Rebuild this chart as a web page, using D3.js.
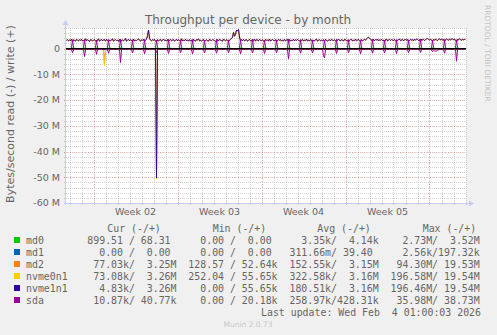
<!DOCTYPE html>
<html>
<head>
<meta charset="utf-8">
<script src="https://cdn.jsdelivr.net/npm/d3@7"></script>
<style>
  html, body { margin: 0; padding: 0; background: #f0f0f0; }
  svg { display: block; }
  text { font-family: "DejaVu Sans", sans-serif; fill: #666; }
  .mono { font-family: "DejaVu Sans Mono", monospace; font-size: 9.9px; white-space: pre; }
</style>
</head>
<body>
<svg id="chart" width="497" height="335"></svg>
<script>
// ---- data (MB/s) ----
// Fine series: 2-hour samples from 2026-01-01 18:00 UTC, laid out as
// 3 samples for Jan 1, one row of 12 per day (00:00 .. 22:00) up to Feb 3, then Feb 4 00:00.
const devices = ["md0", "md1", "md2", "nvme0n1", "nvme1n1", "sda"];
const colors  = ["#00CC00", "#0066B3", "#FF8000", "#FFCC00", "#330099", "#990099"];

// writes on the RAID1 mirror: md2 and both nvme members carry the same load
const raidWrite = [3.2,3.5,3.0,
  3.3,3.1,3.7,2.6,3.4,3.2,2.9,3.6,3.3,3.0,3.5,3.2,
  3.6,2.9,3.3,2.8,3.8,3.1,3.4,3.2,2.7,3.5,3.3,3.0,
  3.2,3.5,3.0,2.6,3.3,3.8,2.9,3.2,3.6,3.0,3.4,3.5,
  2.9,3.6,3.2,2.7,3.4,3.0,3.3,3.8,2.9,3.2,3.5,3.1,
  3.3,2.8,3.6,2.5,3.2,3.4,3.0,3.3,3.9,2.9,3.2,3.6,
  3.0,3.5,3.2,2.8,3.7,2.9,3.3,3.1,3.5,3.8,3.2,2.9,
  3.4,3.2,3.6,2.7,3.3,3.7,5.0,7.2,4.0,3.3,3.0,3.5,
  3.2,3.6,2.9,2.6,3.5,3.0,3.3,3.6,2.9,3.2,3.7,3.1,
  3.3,2.9,3.5,2.7,3.2,3.6,3.0,3.3,3.5,2.9,3.2,3.6,
  3.0,3.5,3.2,2.8,3.8,2.9,3.3,3.1,3.6,3.0,3.4,2.9,
  3.5,3.0,3.3,2.6,3.6,3.1,2.9,3.5,3.3,3.8,3.0,3.2,
  2.9,3.3,3.6,2.7,3.1,3.5,3.0,2.9,3.6,3.3,3.1,3.5,
  3.3,3.1,2.9,2.5,3.5,3.0,3.6,3.3,3.1,2.9,3.7,3.3,
  3.0,3.5,3.2,2.8,3.3,3.6,3.9,4.4,6.3,4.8,5.5,7.2,
  6.8,7.4,4.5,2.9,3.5,3.1,3.6,3.0,3.3,3.5,2.9,3.2,
  3.6,3.0,3.3,2.6,3.2,3.7,2.9,3.5,3.3,3.0,3.6,3.2,
  3.1,3.5,2.9,2.7,3.6,3.2,3.3,3.0,3.7,2.9,3.3,3.5,
  3.3,2.9,3.5,2.8,3.0,3.6,3.2,3.5,2.9,3.3,3.0,3.6,
  3.0,3.3,3.6,2.5,3.5,2.9,3.3,3.1,3.6,3.0,3.5,3.2,
  3.5,3.2,3.0,2.7,3.3,3.6,2.9,3.3,3.1,3.7,3.0,3.3,
  2.9,3.6,3.3,2.6,3.2,3.0,3.5,3.7,2.9,3.2,3.5,3.0,
  3.3,3.0,3.5,2.8,3.6,3.2,2.9,3.3,3.5,3.0,3.6,3.3,
  3.1,3.5,2.9,2.7,3.3,3.7,3.2,3.0,3.5,3.3,2.9,3.6,
  3.5,3.0,3.3,2.6,3.2,3.5,3.6,2.9,3.3,3.1,3.7,3.0,
  3.3,3.6,3.1,2.8,3.5,3.0,3.3,3.6,3.2,3.8,4.2,4.4,
  4.0,3.6,3.4,2.7,3.6,3.1,3.5,3.3,3.7,3.0,3.4,3.2,
  3.6,3.1,3.3,2.6,3.5,3.7,3.0,3.3,3.6,3.1,3.5,3.3,
  3.1,3.6,3.0,2.8,3.3,3.5,3.7,3.1,3.3,3.6,3.0,3.5,
  3.5,3.3,3.6,2.7,3.1,3.6,3.3,3.5,3.0,3.7,3.3,3.6,
  3.6,3.1,3.5,2.6,3.7,3.3,3.6,3.1,3.4,3.8,3.9,3.5,
  3.3,3.7,3.4,2.8,3.6,3.2,3.7,3.4,3.1,3.6,3.8,3.4,
  3.7,3.3,3.6,2.7,3.4,3.8,3.5,3.2,3.7,3.4,3.6,3.8,
  3.4,3.7,3.2,2.6,3.6,3.4,3.8,3.5,3.2,3.7,3.4,3.6,
  3.6];

const sdaWrite = [0.03,0.02,0.03,
  0.03,0.02,0.4,3.4,0.5,0.03,0.02,0.03,0.02,0.03,0.02,0.03,
  0.03,0.02,0.4,3.6,0.5,0.03,0.02,0.03,0.02,0.03,0.02,0.03,
  0.03,0.02,0.4,3.3,0.5,0.03,0.02,0.03,0.02,0.03,0.02,0.03,
  0.03,0.02,0.4,3.5,0.5,0.03,0.02,0.03,0.02,0.03,0.02,0.03,
  0.03,0.02,0.4,3.7,0.5,0.03,0.02,0.03,0.02,0.03,0.02,0.03,
  0.03,0.02,0.4,3.4,0.5,0.03,0.02,0.03,0.02,0.03,0.02,0.03,
  0.03,0.02,0.4,3.5,0.5,0.03,0.02,0.03,0.02,0.03,0.02,0.03,
  0.03,0.02,0.4,3.3,0.5,0.03,0.02,0.03,0.02,0.03,0.02,0.03,
  0.03,0.02,0.4,3.6,0.5,0.03,0.02,0.03,0.02,0.03,0.02,0.03,
  0.03,0.02,0.4,3.4,0.5,0.03,0.02,0.03,0.02,0.03,0.02,0.03,
  0.03,0.02,0.4,3.5,0.5,0.03,0.02,0.03,0.02,0.03,0.02,0.03,
  0.03,0.02,0.4,3.3,0.5,0.03,0.02,0.03,0.02,0.03,0.02,0.03,
  0.03,0.02,0.4,3.6,0.5,0.03,0.02,0.03,0.02,0.03,0.02,0.03,
  0.03,0.02,0.4,3.4,0.5,0.03,0.02,0.03,0.02,0.03,0.02,0.03,
  0.03,0.02,0.4,3.5,0.5,0.03,0.02,0.03,0.02,0.03,0.02,0.03,
  0.03,0.02,0.4,3.7,0.5,0.03,0.02,0.03,0.02,0.03,0.02,0.03,
  0.03,0.02,0.4,3.3,0.5,0.03,0.02,0.03,0.02,0.03,0.02,0.03,
  0.03,0.02,0.4,3.4,0.5,0.03,0.02,0.03,0.02,0.03,0.02,0.03,
  0.03,0.02,0.4,3.6,0.5,0.03,0.02,0.03,0.02,0.03,0.02,0.03,
  0.03,0.02,0.4,3.5,0.5,0.03,0.02,0.03,0.02,0.03,0.02,0.03,
  0.03,0.02,0.4,3.4,0.5,0.03,0.02,0.03,0.02,0.03,0.02,0.03,
  0.03,0.02,0.4,3.3,0.5,0.03,0.02,0.03,0.02,0.03,0.02,0.03,
  0.03,0.02,0.4,3.6,0.5,0.03,0.02,0.03,0.02,0.03,0.02,0.03,
  0.03,0.02,0.4,3.5,0.5,0.03,0.02,0.03,0.02,0.03,0.02,0.03,
  0.03,0.02,0.4,3.4,0.5,0.03,0.02,0.03,0.02,0.03,0.02,0.03,
  0.03,0.02,0.4,3.6,0.5,0.03,0.02,0.03,0.02,0.03,0.02,0.03,
  0.03,0.02,0.4,3.3,0.5,0.03,0.02,0.03,0.02,0.03,0.02,0.03,
  0.03,0.02,0.4,3.5,0.5,0.03,0.02,0.03,0.02,0.03,0.02,0.03,
  0.03,0.02,0.4,3.4,0.5,0.03,0.02,0.03,0.02,0.03,0.02,0.03,
  0.03,0.02,0.4,3.6,0.5,0.03,0.02,0.03,0.02,0.03,0.02,0.03,
  0.03,0.02,0.4,3.2,0.5,0.03,0.02,0.03,0.02,0.03,0.02,0.03,
  0.03,0.02,0.4,3.5,0.5,0.03,0.02,0.03,0.02,0.03,0.02,0.03,
  0.03,0.02,0.4,3.4,0.5,0.03,0.02,0.03,0.02,0.03,0.02,0.03,
  0.02];

const sdaRead = [-0.15,-0.12,-0.15,
  -0.15,-0.12,-0.4,-1.6,-0.5,-0.2,-0.15,-0.12,-0.15,-0.2,-0.12,-0.15,
  -0.15,-0.12,-0.4,-3.1,-0.5,-0.2,-0.15,-0.12,-0.15,-0.2,-0.12,-0.15,
  -0.15,-0.12,-0.4,-2.2,-0.5,-0.2,-0.15,-0.12,-0.15,-0.2,-0.12,-0.15,
  -0.15,-0.12,-0.4,-1.8,-0.5,-0.2,-0.15,-0.12,-0.15,-0.2,-0.12,-0.15,
  -0.15,-0.12,-0.4,-5.4,-0.5,-0.2,-0.15,-0.12,-0.15,-0.2,-0.12,-0.15,
  -0.15,-0.12,-0.4,-1.7,-0.5,-0.2,-0.15,-0.12,-0.15,-0.2,-0.12,-0.15,
  -0.15,-0.12,-0.4,-2.0,-0.5,-0.2,-0.15,-0.12,-0.15,-0.2,-0.12,-0.15,
  -0.15,-0.12,-0.4,-1.5,-0.5,-0.2,-0.15,-0.12,-0.15,-0.2,-0.12,-0.15,
  -0.15,-0.12,-0.4,-1.9,-0.5,-0.2,-0.15,-0.12,-0.15,-0.2,-0.12,-0.15,
  -0.15,-0.12,-0.4,-1.6,-0.5,-0.2,-0.15,-0.12,-0.15,-0.2,-0.12,-0.15,
  -0.15,-0.12,-0.4,-2.1,-0.5,-0.2,-0.15,-0.12,-0.15,-0.2,-0.12,-0.15,
  -0.15,-0.12,-0.4,-1.7,-0.5,-0.2,-0.15,-0.12,-0.15,-0.2,-0.12,-0.15,
  -0.15,-0.12,-0.4,-1.8,-0.5,-0.2,-0.15,-0.12,-0.15,-0.2,-0.12,-0.15,
  -0.15,-0.12,-0.4,-1.6,-0.5,-0.2,-0.15,-0.12,-0.15,-0.2,-0.12,-0.15,
  -0.15,-0.12,-0.4,-2.0,-0.5,-0.2,-0.15,-0.12,-0.15,-0.2,-0.12,-0.15,
  -0.15,-0.12,-0.4,-1.7,-0.5,-0.2,-0.15,-0.12,-0.15,-0.2,-0.12,-0.15,
  -0.15,-0.12,-0.4,-1.9,-0.5,-0.2,-0.15,-0.12,-0.15,-0.2,-0.12,-0.15,
  -0.15,-0.12,-0.4,-1.6,-0.5,-0.2,-0.15,-0.12,-0.15,-0.2,-0.12,-0.15,
  -0.15,-0.12,-0.4,-4.0,-0.5,-0.2,-0.15,-0.12,-0.15,-0.2,-0.12,-0.15,
  -0.15,-0.12,-0.4,-1.8,-0.5,-0.2,-0.15,-0.12,-0.15,-0.2,-0.12,-0.15,
  -0.15,-0.12,-0.4,-1.7,-0.5,-0.2,-0.15,-0.12,-0.15,-0.2,-0.12,-0.15,
  -0.15,-0.12,-2.8,-3.6,-0.5,-0.2,-0.15,-0.12,-0.15,-0.2,-0.12,-0.15,
  -0.15,-0.12,-0.4,-1.9,-0.5,-0.2,-0.15,-0.12,-0.15,-0.2,-0.12,-0.15,
  -0.15,-0.12,-0.4,-1.6,-0.5,-0.2,-0.15,-0.12,-0.15,-0.2,-0.12,-0.15,
  -0.15,-0.12,-0.4,-2.0,-0.5,-0.2,-0.15,-0.12,-0.15,-0.2,-0.12,-0.15,
  -0.15,-0.12,-0.4,-1.8,-0.5,-0.2,-0.15,-0.12,-0.15,-0.2,-0.12,-0.15,
  -0.15,-0.12,-0.4,-1.7,-0.5,-0.2,-0.15,-0.12,-0.15,-0.2,-0.12,-0.15,
  -0.15,-0.12,-0.4,-1.9,-0.5,-0.2,-0.15,-0.12,-0.15,-0.2,-0.12,-0.15,
  -0.15,-0.12,-0.4,-1.6,-0.5,-0.2,-0.15,-0.12,-0.15,-0.2,-0.12,-0.15,
  -0.15,-0.12,-0.4,-1.5,-0.5,-0.2,-0.15,-0.12,-0.15,-0.2,-0.12,-0.15,
  -0.2,-0.3,-0.5,-1.2,-0.8,-0.9,-1.0,-0.9,-0.7,-0.5,-0.3,-0.2,
  -0.15,-0.12,-0.4,-1.8,-0.5,-0.2,-0.15,-0.12,-0.15,-0.2,-0.12,-0.15,
  -0.15,-0.12,-0.4,-4.9,-0.5,-0.2,-0.15,-0.12,-0.15,-0.2,-0.12,-0.15,
  -0.12];

const md2Read = [-0.15,-0.1,-0.2,
  -0.15,-0.1,-0.2,-0.25,-0.15,-0.1,-0.2,-0.15,-0.1,-0.2,-0.15,-0.1,
  -0.15,-0.1,-0.2,-0.25,-0.15,-0.1,-0.2,-0.15,-0.1,-0.2,-0.15,-0.1,
  -0.15,-0.1,-0.2,-0.25,-0.15,-0.1,-0.2,-0.15,-0.1,-0.2,-0.15,-6.0,
  -0.15,-0.1,-0.2,-0.25,-0.15,-0.1,-0.2,-0.15,-0.1,-0.2,-0.15,-0.1,
  -0.15,-0.1,-0.2,-0.25,-0.15,-0.1,-0.2,-0.15,-0.1,-0.2,-0.15,-0.1,
  -0.15,-0.1,-0.2,-0.25,-0.15,-0.1,-0.2,-0.15,-0.1,-0.2,-0.15,-0.1,
  -0.15,-0.1,-0.2,-0.25,-0.15,-0.1,-0.2,-0.15,-0.1,-0.2,-0.15,-0.1,
  -0.15,-0.1,-0.2,-49.0,-0.15,-0.1,-0.2,-0.15,-0.1,-0.2,-0.15,-0.1,
  -0.15,-0.1,-0.2,-0.25,-0.15,-0.1,-0.2,-0.15,-0.1,-0.2,-0.15,-0.1,
  -0.15,-0.1,-0.2,-0.25,-0.15,-0.1,-0.2,-0.15,-0.1,-0.2,-0.15,-0.1,
  -0.15,-0.1,-0.2,-0.25,-0.15,-0.1,-0.2,-0.15,-0.1,-0.2,-0.15,-0.1,
  -0.15,-0.1,-0.2,-0.25,-0.15,-0.1,-0.2,-0.15,-0.1,-0.2,-0.15,-0.1,
  -0.15,-0.1,-0.2,-0.25,-0.15,-0.1,-0.2,-0.15,-0.1,-0.2,-0.15,-0.1,
  -0.15,-0.1,-0.2,-0.25,-0.15,-0.1,-0.2,-0.15,-0.1,-0.2,-0.15,-0.1,
  -0.15,-0.1,-0.2,-0.25,-0.15,-0.1,-0.2,-0.15,-0.1,-0.2,-0.15,-0.1,
  -0.15,-0.1,-0.2,-0.25,-0.15,-0.1,-0.2,-0.15,-0.1,-0.2,-0.15,-0.1,
  -0.15,-0.1,-0.2,-0.25,-0.15,-0.1,-0.2,-0.15,-0.1,-0.2,-0.15,-0.1,
  -0.15,-0.1,-0.2,-0.25,-0.15,-0.1,-0.2,-0.15,-0.1,-0.2,-0.15,-0.1,
  -0.15,-0.1,-0.2,-0.25,-0.15,-0.1,-0.2,-0.15,-0.1,-0.2,-0.15,-0.1,
  -0.15,-0.1,-0.2,-0.25,-0.15,-0.1,-0.2,-0.15,-0.1,-0.2,-0.15,-0.1,
  -0.15,-0.1,-0.2,-0.25,-0.15,-0.1,-0.2,-0.15,-0.1,-0.2,-0.15,-0.1,
  -0.15,-0.1,-0.2,-0.25,-0.15,-0.1,-0.2,-0.15,-0.1,-0.2,-0.15,-0.1,
  -0.15,-0.1,-0.2,-0.25,-0.15,-0.1,-0.2,-0.15,-0.1,-0.2,-0.15,-0.1,
  -0.15,-0.1,-0.2,-0.25,-0.15,-0.1,-0.2,-0.15,-0.1,-0.2,-0.15,-0.1,
  -0.15,-0.1,-0.2,-0.25,-0.15,-0.1,-0.2,-0.15,-0.1,-0.2,-0.15,-0.1,
  -0.15,-0.1,-0.2,-0.25,-0.15,-0.1,-0.2,-0.15,-0.1,-0.2,-0.15,-0.1,
  -0.15,-0.1,-0.2,-0.25,-0.15,-0.1,-0.2,-0.15,-0.1,-0.2,-0.15,-0.1,
  -0.15,-0.1,-0.2,-0.25,-0.15,-0.1,-0.2,-0.15,-0.1,-0.2,-0.15,-0.1,
  -0.15,-0.1,-0.2,-0.25,-0.15,-0.1,-0.2,-0.15,-0.1,-0.2,-0.15,-0.1,
  -0.15,-0.1,-0.2,-0.25,-0.15,-0.1,-0.2,-0.15,-0.1,-0.2,-0.15,-0.1,
  -0.15,-0.1,-0.2,-0.25,-0.15,-0.1,-0.2,-0.15,-0.1,-0.2,-0.15,-0.1,
  -0.15,-0.1,-0.2,-0.25,-0.15,-0.1,-0.2,-0.15,-0.1,-0.2,-0.15,-0.1,
  -0.15];

const nvme0n1Read = [-0.3,-0.25,-0.35,
  -0.3,-0.25,-0.35,-0.45,-0.3,-0.25,-0.35,-0.3,-0.25,-0.35,-0.3,-0.25,
  -0.3,-0.25,-0.35,-0.45,-0.3,-0.25,-0.35,-0.3,-0.25,-0.35,-0.3,-0.25,
  -0.3,-0.25,-0.35,-0.45,-0.3,-0.25,-0.35,-0.3,-0.25,-0.35,-1.0,-6.6,
  -0.3,-0.25,-0.35,-0.45,-0.3,-0.25,-0.35,-0.3,-0.25,-0.35,-0.3,-0.25,
  -0.3,-0.25,-0.35,-0.45,-0.3,-0.25,-0.35,-0.3,-0.25,-0.35,-0.3,-0.25,
  -0.3,-0.25,-0.35,-0.45,-0.3,-0.25,-0.35,-0.3,-0.25,-0.35,-0.3,-0.25,
  -0.3,-0.25,-0.35,-0.45,-0.3,-0.25,-0.35,-0.3,-0.25,-0.35,-0.3,-0.25,
  -0.3,-0.25,-0.35,-50.5,-0.3,-0.25,-0.35,-0.3,-0.25,-0.35,-0.3,-0.25,
  -0.3,-0.25,-0.35,-0.45,-0.3,-0.25,-0.35,-0.3,-0.25,-0.35,-0.3,-0.25,
  -0.3,-0.25,-0.35,-0.45,-0.3,-0.25,-0.35,-0.3,-0.25,-0.35,-0.3,-0.25,
  -0.3,-0.25,-0.35,-0.45,-0.3,-0.25,-0.35,-0.3,-0.25,-0.35,-0.3,-0.25,
  -0.3,-0.25,-0.35,-0.45,-0.3,-0.25,-0.35,-0.3,-0.25,-0.35,-0.3,-0.25,
  -0.3,-0.25,-0.35,-0.45,-0.3,-0.25,-0.35,-0.3,-0.25,-0.35,-0.3,-0.25,
  -0.3,-0.25,-0.35,-0.45,-0.3,-0.25,-0.35,-0.3,-0.25,-0.35,-0.3,-0.25,
  -0.3,-0.25,-0.35,-0.45,-0.3,-0.25,-0.35,-0.3,-0.25,-0.35,-0.3,-0.25,
  -0.3,-0.25,-0.35,-0.45,-0.3,-0.25,-0.35,-0.3,-0.25,-0.35,-0.3,-0.25,
  -0.3,-0.25,-0.35,-0.45,-0.3,-0.25,-0.35,-0.3,-0.25,-0.35,-0.3,-0.25,
  -0.3,-0.25,-0.35,-0.45,-0.3,-0.25,-0.35,-0.3,-0.25,-0.35,-0.3,-0.25,
  -0.3,-0.25,-0.35,-0.45,-0.3,-0.25,-0.35,-0.3,-0.25,-0.35,-0.3,-0.25,
  -0.3,-0.25,-0.35,-0.45,-0.3,-0.25,-0.35,-0.3,-0.25,-0.35,-0.3,-0.25,
  -0.3,-0.25,-0.35,-0.45,-0.3,-0.25,-0.35,-0.3,-0.25,-0.35,-0.3,-0.25,
  -0.3,-0.25,-0.35,-0.45,-0.3,-0.25,-0.35,-0.3,-0.25,-0.35,-0.3,-0.25,
  -0.3,-0.25,-0.35,-0.45,-0.3,-0.25,-0.35,-0.3,-0.25,-0.35,-0.3,-0.25,
  -0.3,-0.25,-0.35,-0.45,-0.3,-0.25,-0.35,-0.3,-0.25,-0.35,-0.3,-0.25,
  -0.3,-0.25,-0.35,-0.45,-0.3,-0.25,-0.35,-0.3,-0.25,-0.35,-0.3,-0.25,
  -0.3,-0.25,-0.35,-0.45,-0.3,-0.25,-0.35,-0.3,-0.25,-0.35,-0.3,-0.25,
  -0.3,-0.25,-0.35,-0.45,-0.3,-0.25,-0.35,-0.3,-0.25,-0.35,-0.3,-0.25,
  -0.3,-0.25,-0.35,-0.45,-0.3,-0.25,-0.35,-0.3,-0.25,-0.35,-0.3,-0.25,
  -0.3,-0.25,-0.35,-0.45,-0.3,-0.25,-0.35,-0.3,-0.25,-0.35,-0.3,-0.25,
  -0.3,-0.25,-0.35,-0.45,-0.3,-0.25,-0.35,-0.3,-0.25,-0.35,-0.3,-0.25,
  -0.3,-0.25,-0.35,-0.45,-0.3,-0.25,-0.35,-0.3,-0.25,-0.35,-0.3,-0.25,
  -0.3,-0.25,-0.35,-0.45,-0.3,-0.25,-0.35,-0.3,-0.25,-0.35,-0.3,-0.25,
  -0.3,-0.25,-0.35,-0.45,-0.3,-0.25,-0.35,-0.3,-0.25,-0.35,-0.3,-0.25,
  -0.3];

const nvme1n1Read = [-0.2,-0.15,-0.25,
  -0.2,-0.15,-0.25,-0.3,-0.2,-0.15,-0.25,-0.2,-0.15,-0.25,-0.2,-0.15,
  -0.2,-0.15,-0.25,-0.3,-0.2,-0.15,-0.25,-0.2,-0.15,-0.25,-0.2,-0.15,
  -0.2,-0.15,-0.25,-0.3,-0.2,-0.15,-0.25,-0.2,-0.15,-0.25,-0.2,-0.3,
  -0.2,-0.15,-0.25,-0.3,-0.2,-0.15,-0.25,-0.2,-0.15,-0.25,-0.2,-0.15,
  -0.2,-0.15,-0.25,-0.3,-0.2,-0.15,-0.25,-0.2,-0.15,-0.25,-0.2,-0.15,
  -0.2,-0.15,-0.25,-0.3,-0.2,-0.15,-0.25,-0.2,-0.15,-0.25,-0.2,-0.15,
  -0.2,-0.15,-0.25,-0.3,-0.2,-0.15,-0.25,-0.2,-0.15,-0.25,-0.2,-0.15,
  -0.2,-0.15,-0.25,-50.3,-0.2,-0.15,-0.25,-0.2,-0.15,-0.25,-0.2,-0.15,
  -0.2,-0.15,-0.25,-0.3,-0.2,-0.15,-0.25,-0.2,-0.15,-0.25,-0.2,-0.15,
  -0.2,-0.15,-0.25,-0.3,-0.2,-0.15,-0.25,-0.2,-0.15,-0.25,-0.2,-0.15,
  -0.2,-0.15,-0.25,-0.3,-0.2,-0.15,-0.25,-0.2,-0.15,-0.25,-0.2,-0.15,
  -0.2,-0.15,-0.25,-0.3,-0.2,-0.15,-0.25,-0.2,-0.15,-0.25,-0.2,-0.15,
  -0.2,-0.15,-0.25,-0.3,-0.2,-0.15,-0.25,-0.2,-0.15,-0.25,-0.2,-0.15,
  -0.2,-0.15,-0.25,-0.3,-0.2,-0.15,-0.25,-0.2,-0.15,-0.25,-0.2,-0.15,
  -0.2,-0.15,-0.25,-0.3,-0.2,-0.15,-0.25,-0.2,-0.15,-0.25,-0.2,-0.15,
  -0.2,-0.15,-0.25,-0.3,-0.2,-0.15,-0.25,-0.2,-0.15,-0.25,-0.2,-0.15,
  -0.2,-0.15,-0.25,-0.3,-0.2,-0.15,-0.25,-0.2,-0.15,-0.25,-0.2,-0.15,
  -0.2,-0.15,-0.25,-0.3,-0.2,-0.15,-0.25,-0.2,-0.15,-0.25,-0.2,-0.15,
  -0.2,-0.15,-0.25,-0.3,-0.2,-0.15,-0.25,-0.2,-0.15,-0.25,-0.2,-0.15,
  -0.2,-0.15,-0.25,-0.3,-0.2,-0.15,-0.25,-0.2,-0.15,-0.25,-0.2,-0.15,
  -0.2,-0.15,-0.25,-0.3,-0.2,-0.15,-0.25,-0.2,-0.15,-0.25,-0.2,-0.15,
  -0.2,-0.15,-0.25,-0.3,-0.2,-0.15,-0.25,-0.2,-0.15,-0.25,-0.2,-0.15,
  -0.2,-0.15,-0.25,-0.3,-0.2,-0.15,-0.25,-0.2,-0.15,-0.25,-0.2,-0.15,
  -0.2,-0.15,-0.25,-0.3,-0.2,-0.15,-0.25,-0.2,-0.15,-0.25,-0.2,-0.15,
  -0.2,-0.15,-0.25,-0.3,-0.2,-0.15,-0.25,-0.2,-0.15,-0.25,-0.2,-0.15,
  -0.2,-0.15,-0.25,-0.3,-0.2,-0.15,-0.25,-0.2,-0.15,-0.25,-0.2,-0.15,
  -0.2,-0.15,-0.25,-0.3,-0.2,-0.15,-0.25,-0.2,-0.15,-0.25,-0.2,-0.15,
  -0.2,-0.15,-0.25,-0.3,-0.2,-0.15,-0.25,-0.2,-0.15,-0.25,-0.2,-0.15,
  -0.2,-0.15,-0.25,-0.3,-0.2,-0.15,-0.25,-0.2,-0.15,-0.25,-0.2,-0.15,
  -0.2,-0.15,-0.25,-0.3,-0.2,-0.15,-0.25,-0.2,-0.15,-0.25,-0.2,-0.15,
  -0.2,-0.15,-0.25,-0.3,-0.2,-0.15,-0.25,-0.2,-0.15,-0.25,-0.2,-0.15,
  -0.2,-0.15,-0.25,-0.3,-0.2,-0.15,-0.25,-0.2,-0.15,-0.25,-0.2,-0.15,
  -0.2,-0.15,-0.25,-0.3,-0.2,-0.15,-0.25,-0.2,-0.15,-0.25,-0.2,-0.15,
  -0.2];

// Coarse series: 6-hour samples from 2026-01-01 18:00 UTC (md0 and md1 stay near zero)
const md0Write = [0,
  0,0.3,0,0, 0,0.2,0,0, 0,0.3,0,0, 0,0.2,0,0, 0,0.3,0,0, 0,0.2,0,0,
  0,0.3,0,0, 0,0.2,0,0, 0,0.3,0,0, 0,0.2,0,0, 0,0.3,0,0, 0,0.2,0,0,
  0,0.3,0,0, 0,0.2,0,0, 0,0.3,0,0, 0,0.2,0,0, 0,0.3,0,0, 0,0.2,0,0,
  0,0.3,0,0, 0,0.2,0,0, 0,0.3,0,0, 0,0.2,0,0, 0,0.3,0,0, 0,0.2,0,0,
  0,0.3,0,0, 0,0.2,0,0, 0,0.3,0,0, 0,0.2,0,0, 0,0.3,0,0, 0,0.2,0,0,
  0,0.3,0,0, 0,0.2,0,0, 0,0.3,0,0,
  0];
const md0Read = [0,
  0,-0.05,0,0, 0,-0.05,0,0, 0,-0.05,0,0, 0,-0.05,0,0, 0,-0.05,0,0, 0,-0.05,0,0,
  0,-0.05,0,0, 0,-0.05,0,0, 0,-0.05,0,0, 0,-0.05,0,0, 0,-0.05,0,0, 0,-0.05,0,0,
  0,-0.05,0,0, 0,-0.05,0,0, 0,-0.05,0,0, 0,-0.05,0,0, 0,-0.05,0,0, 0,-0.05,0,0,
  0,-0.05,0,0, 0,-0.05,0,0, 0,-0.05,0,0, 0,-0.05,0,0, 0,-0.05,0,0, 0,-0.05,0,0,
  0,-0.05,0,0, 0,-0.05,0,0, 0,-0.05,0,0, 0,-0.05,0,0, 0,-0.05,0,0, 0,-0.05,0,0,
  0,-0.05,0,0, 0,-0.05,0,0, 0,-0.05,0,0,
  0];
const md1Write = [0,
  0,0,0,0, 0,0,0,0, 0,0,0,0, 0,0,0,0, 0,0,0,0, 0,0,0,0, 0,0,0,0, 0,0,0,0,
  0,0,0,0, 0,0,0,0, 0,0,0,0, 0,0,0,0, 0,0,0,0, 0,0,0,0, 0,0,0,0, 0,0,0,0,
  0,0,0,0, 0,0,0,0, 0,0,0,0, 0,0,0,0, 0,0,0,0, 0,0,0,0, 0,0,0,0, 0,0,0,0,
  0,0,0,0, 0,0,0,0, 0,0,0,0, 0,0,0,0, 0,0,0,0, 0,0,0,0, 0,0,0,0, 0,0,0,0,
  0,0,0,0,
  0];
const md1Read = [0,
  0,0,0,0, 0,0,0,0, 0,0,0,0, 0,0,0,0, 0,0,0,0, 0,0,0,0, 0,0,0,0, 0,0,0,0,
  0,0,0,0, 0,0,0,0, 0,0,0,0, 0,0,0,0, 0,0,0,0, 0,0,0,0, 0,0,0,0, 0,0,0,0,
  0,0,0,0, 0,0,0,0, 0,0,0,0, 0,0,0,0, 0,0,0,0, 0,0,0,0, 0,0,0,0, 0,0,0,0,
  0,0,0,0, 0,0,0,0, 0,0,0,0, 0,0,0,0, 0,0,0,0, 0,0,0,0, 0,0,0,0, 0,0,0,0,
  0,0,0,0,
  0];

const fineStepMs = 2 * 3600 * 1000;
const coarseStepMs = 6 * 3600 * 1000;
const readSeries  = [[md0Read, coarseStepMs], [md1Read, coarseStepMs], [md2Read, fineStepMs],
                     [nvme0n1Read, fineStepMs], [nvme1n1Read, fineStepMs], [sdaRead, fineStepMs]];
const writeSeries = [[md0Write, coarseStepMs], [md1Write, coarseStepMs], [raidWrite, fineStepMs],
                     [raidWrite, fineStepMs], [raidWrite, fineStepMs], [sdaWrite, fineStepMs]];

// legend table: each cell is "read/write" as printed by rrdtool's GPRINT
const legendCur = ["899.51 / 68.31 ", "  0.00 /  0.00 ", " 77.03k/  3.25M", " 73.08k/  3.26M", "  4.83k/  3.26M", " 10.87k/ 40.77k"];
const legendMin = ["  0.00 /  0.00 ", "  0.00 /  0.00 ", "128.57 / 52.64k", "252.04 / 55.65k", "  0.00 / 55.65k", "  0.00 / 20.18k"];
const legendAvg = ["  3.35k/  4.14k", "311.66m/ 39.40 ", "152.55k/  3.15M", "322.58k/  3.16M", "180.51k/  3.16M", "258.97k/428.31k"];
const legendMax = ["  2.73M/  3.52M", "  2.56k/197.32k", " 94.30M/ 19.53M", "196.58M/ 19.54M", "196.46M/ 19.54M", " 35.98M/ 38.73M"];
const legendHeaders = ["Cur (-/+)", "Min (-/+)", "Avg (-/+)", "Max (-/+)"];

const yTickValues = [0, -10, -20, -30, -40, -50, -60];
const yTickLabels = ["0", "-10 M", "-20 M", "-30 M", "-40 M", "-50 M", "-60 M"];
const weekLabels  = ["Week 02", "Week 03", "Week 04", "Week 05"];

const sampleStart = Date.UTC(2026, 0, 1, 18);
const rangeStart = new Date(Date.UTC(2026, 0, 1, 17));
const rangeEnd   = new Date(Date.UTC(2026, 1, 4, 1));
const yMin = -60, yMax = 8;

// ---- layout ----
const svg = d3.select("#chart");
const plot = { left: 66, right: 466, top: 28, bottom: 203 };

const x = d3.scaleUtc().domain([rangeStart, rangeEnd]).range([plot.left, plot.right]);
const y = d3.scaleLinear().domain([yMin, yMax]).range([plot.bottom, plot.top]);

svg.append("rect").attr("width", 497).attr("height", 335).attr("fill", "#f0f0f0");
svg.append("rect")
  .attr("x", plot.left).attr("y", plot.top)
  .attr("width", plot.right - plot.left).attr("height", plot.bottom - plot.top)
  .attr("fill", "#ffffff");

// title
svg.append("text")
  .attr("x", 248).attr("y", 24)
  .attr("text-anchor", "middle")
  .style("font-size", "12px")
  .text("Throughput per device - by month");

// vertical axis label
svg.append("text")
  .attr("transform", "translate(14,114) rotate(-90)")
  .attr("text-anchor", "middle")
  .style("font-size", "11px")
  .text("Bytes/second read (-) / write (+)");

// watermark
svg.append("text")
  .attr("transform", "translate(485,5) rotate(90)")
  .style("font-size", "7.5px")
  .style("fill", "#c4c4c4")
  .text("RRDTOOL / TOBI OETIKER");

// ---- grid ----
const grid = svg.append("g");
const minorColor = "rgba(128,128,128,0.35)";
const majorColor = "rgba(255,0,0,0.25)";
const crisp = v => Math.round(v) + 0.5;

grid.selectAll(".hminor").data(d3.range(yMin, yMax + 1, 2)).join("line")
  .attr("x1", plot.left - 2).attr("x2", plot.right)
  .attr("y1", d => crisp(y(d))).attr("y2", d => crisp(y(d)))
  .attr("stroke", minorColor).attr("stroke-dasharray", "1,1");
grid.selectAll(".vminor").data(d3.utcDay.range(rangeStart, rangeEnd)).join("line")
  .attr("x1", d => crisp(x(d))).attr("x2", d => crisp(x(d)))
  .attr("y1", plot.top).attr("y2", plot.bottom + 2)
  .attr("stroke", minorColor).attr("stroke-dasharray", "1,1");
grid.selectAll(".hmajor").data(yTickValues).join("line")
  .attr("x1", plot.left - 2).attr("x2", plot.right)
  .attr("y1", d => crisp(y(d))).attr("y2", d => crisp(y(d)))
  .attr("stroke", majorColor).attr("stroke-dasharray", "1,2");
const sundays = d3.utcSunday.range(rangeStart, rangeEnd);
grid.selectAll(".vmajor").data(sundays).join("line")
  .attr("x1", d => crisp(x(d))).attr("x2", d => crisp(x(d)))
  .attr("y1", plot.top).attr("y2", plot.bottom + 2)
  .attr("stroke", majorColor).attr("stroke-dasharray", "1,2");

// y tick labels
svg.selectAll(".ylab").data(yTickValues).join("text")
  .attr("x", 60).attr("y", d => y(d))
  .attr("dy", "0.35em")
  .attr("text-anchor", "end")
  .style("font-size", "9.5px")
  .text((d, i) => yTickLabels[i]);

// week labels centred in each week
const weekCentres = sundays.map(d => d3.utcHour.offset(d, 84)).filter(d => d < rangeEnd);
svg.selectAll(".xlab").data(weekCentres).join("text")
  .attr("x", d => x(d)).attr("y", 215)
  .attr("text-anchor", "middle")
  .style("font-size", "9.5px")
  .text((d, i) => weekLabels[i]);

// ---- series ----
svg.append("clipPath").attr("id", "plotclip").append("rect")
  .attr("x", plot.left).attr("y", plot.top - 1)
  .attr("width", plot.right - plot.left).attr("height", plot.bottom - plot.top + 1);

const lineFor = stepMs => d3.line()
  .x((d, i) => x(new Date(sampleStart + i * stepMs)))
  .y(d => y(d));

const series = svg.append("g").attr("clip-path", "url(#plotclip)");
devices.forEach((dev, k) => {
  for (const [values, stepMs] of [readSeries[k], writeSeries[k]]) {
    series.append("path").attr("d", lineFor(stepMs)(values))
      .attr("fill", "none").attr("stroke", colors[k]).attr("stroke-width", 1);
  }
});

// zero rule
series.append("line")
  .attr("x1", plot.left).attr("x2", plot.right)
  .attr("y1", y(0)).attr("y2", y(0))
  .attr("stroke", "#000").attr("stroke-width", 1.2);

// ---- axes with arrows ----
const axisColor = "#c6cdf5";
svg.append("line")
  .attr("x1", plot.left - 0.5).attr("x2", plot.left - 0.5)
  .attr("y1", plot.bottom + 2).attr("y2", plot.top - 4)
  .attr("stroke", axisColor);
svg.append("path")
  .attr("d", `M${plot.left - 3.5},${plot.top - 3} L${plot.left - 0.5},${plot.top - 8} L${plot.left + 2.5},${plot.top - 3} Z`)
  .attr("fill", axisColor);
svg.append("line")
  .attr("x1", plot.left - 2).attr("x2", plot.right + 4)
  .attr("y1", plot.bottom + 0.5).attr("y2", plot.bottom + 0.5)
  .attr("stroke", axisColor);
svg.append("path")
  .attr("d", `M${plot.right + 3},${plot.bottom - 2.5} L${plot.right + 8},${plot.bottom + 0.5} L${plot.right + 3},${plot.bottom + 3.5} Z`)
  .attr("fill", axisColor);

// ---- legend ----
const headerX = [107.3, 212.7, 317.3, 422.7];
svg.selectAll(".lhead").data(legendHeaders).join("text")
  .attr("class", "mono")
  .attr("x", (d, i) => headerX[i]).attr("y", 232)
  .text(d => d);

const rows = svg.selectAll(".lrow").data(devices).join("g")
  .attr("transform", (d, i) => `translate(0,${243.5 + i * 12})`);
rows.append("rect")
  .attr("x", 14).attr("y", -6.5).attr("width", 6).attr("height", 6)
  .attr("fill", (d, i) => colors[i]);
rows.append("text").attr("class", "mono").attr("x", 26).text(d => d);
rows.append("text").attr("class", "mono").attr("x", 87.3)
  .text((d, i) => [legendCur[i], legendMin[i], legendAvg[i], legendMax[i]].join("  "));

svg.append("text").attr("class", "mono")
  .attr("x", 261).attr("y", 315.5)
  .text("Last update: Wed Feb  4 01:00:03 2026");

svg.append("text")
  .attr("x", 248).attr("y", 327)
  .attr("text-anchor", "middle")
  .style("font-size", "7.5px")
  .style("fill", "#c8c8c8")
  .text("Munin 2.0.73");
</script>
</body>
</html>
